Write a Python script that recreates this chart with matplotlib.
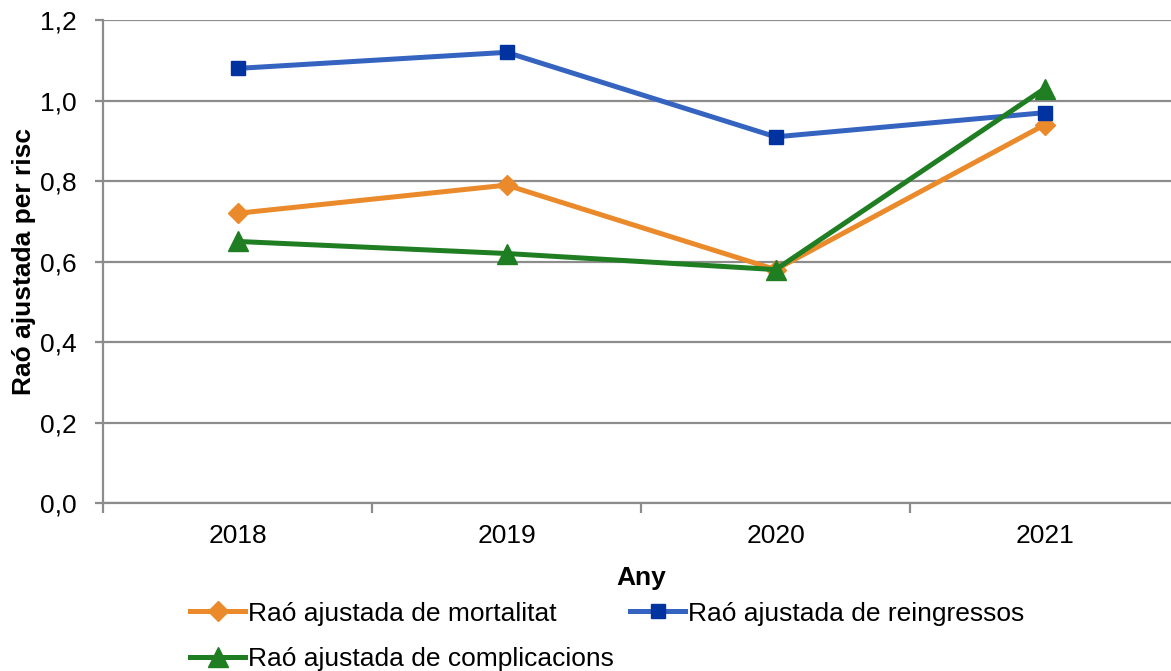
import numpy as np
import matplotlib
matplotlib.use('Agg')
import matplotlib.pyplot as plt

plt.rcParams['font.family'] = ['Liberation Sans', 'DejaVu Sans']

years = ['2018', '2019', '2020', '2021']
mortalitat = [0.72, 0.79, 0.58, 0.94]
reingressos = [1.08, 1.12, 0.91, 0.97]
complicacions = [0.65, 0.62, 0.58, 1.03]
yticks = [0.0, 0.2, 0.4, 0.6, 0.8, 1.0, 1.2]

fig = plt.figure(figsize=(11.71, 6.71), dpi=100)
ax = fig.add_axes([0.088, 0.2504, 0.919, 0.7196])

x = np.arange(len(years))
grid_c = '#8c8c8c'
fs = 19

for yv in yticks:
    ax.axhline(yv, color=grid_c, lw=1.6, zorder=1)

l1, = ax.plot(x, mortalitat, color='#EA8A2A', lw=3.6, marker='D', ms=10,
              mfc='#EA8A2A', mec='#EA8A2A', zorder=3, label='Raó ajustada de mortalitat')
l2, = ax.plot(x, reingressos, color='#3563C0', lw=3.6, marker='s', ms=10.5,
              mfc='#0033A0', mec='#0033A0', zorder=3, label='Raó ajustada de reingressos')
l3, = ax.plot(x, complicacions, color='#1F7D22', lw=3.6, marker='^', ms=14,
              mfc='#1F7D22', mec='#1F7D22', zorder=4, label='Raó ajustada de complicacions')

ax.set_xlim(-0.5, 3.5)
ax.set_ylim(0, 1.2)
ax.set_yticks(yticks)
ax.set_yticklabels([('%.1f' % v).replace('.', ',') for v in yticks], fontsize=fs)
ax.set_xticks(x)
ax.set_xticklabels(years, fontsize=fs)
ax.tick_params(axis='x', length=0, pad=15)
ax.set_xticks(np.arange(-0.5, 4, 1), minor=True)
ax.tick_params(axis='x', which='minor', length=7, color=grid_c, width=1.6)
ax.tick_params(axis='y', length=6, color=grid_c, width=1.6, pad=13)

for s in ['top', 'right']:
    ax.spines[s].set_visible(False)
for s in ['left', 'bottom']:
    ax.spines[s].set_color(grid_c)
    ax.spines[s].set_linewidth(1.6)

ax.set_xlabel('Any', fontsize=fs, fontweight='bold', labelpad=13)
ax.set_ylabel('Raó ajustada per risc', fontsize=fs, fontweight='bold', labelpad=3)

fig.legend(handles=[l1, l3, l2], loc='upper left', bbox_to_anchor=(0.1533, 0.119),
           ncol=2, frameon=False, fontsize=fs, handlelength=2.1, handletextpad=0.1,
           columnspacing=0.6, labelspacing=0.8, borderaxespad=0)

fig.savefig('out.png', dpi=100)
